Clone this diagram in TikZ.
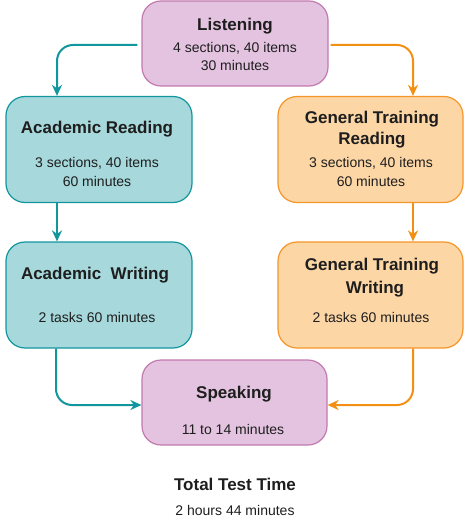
\documentclass[tikz,border=0pt]{standalone}
\usepackage{fontspec}
\setmainfont{Liberation Sans}
\usetikzlibrary{arrows.meta,calc}
\definecolor{tealfill}{HTML}{A6D8DC}
\definecolor{tealline}{HTML}{12969E}
\definecolor{orfill}{HTML}{FDD6A5}
\definecolor{orline}{HTML}{F5962A}
\definecolor{orarrow}{HTML}{F39014}
\definecolor{pkfill}{HTML}{E4C3E0}
\definecolor{pkline}{HTML}{C27AAF}
\definecolor{txt}{HTML}{1E1E1E}
\tikzset{
  box/.style={draw, rounded corners=19pt, line width=1.2pt, minimum width=186pt, inner sep=0pt},
  tealbox/.style={box, fill=tealfill, draw=tealline},
  orbox/.style={box, fill=orfill, draw=orline},
  pkbox/.style={box, fill=pkfill, draw=pkline},
  ttl/.style={anchor=base, text=txt, font=\fontsize{17}{20}\selectfont\bfseries, inner sep=0pt},
  bdy/.style={anchor=base, text=txt, font=\fontsize{14}{17}\selectfont, inner sep=0pt},
  conn/.style={line width=2pt, rounded corners=16pt, -{Stealth[length=11pt,width=10pt,inset=3.5pt]}},
}
\begin{document}
\begin{tikzpicture}[x=1pt,y=-1pt]
\useasboundingbox (0,0) rectangle (470,521);
% boxes
\node[pkbox, minimum width=186pt, minimum height=85pt] (lis) at (235,43.5) {};
\node[tealbox, minimum height=106pt] (ar) at (99,149.5) {};
\node[orbox, minimum width=185pt, minimum height=106pt] (gr) at (370.5,149.5) {};
\node[tealbox, minimum height=106pt] (aw) at (99,295) {};
\node[orbox, minimum width=185pt, minimum height=106pt] (gw) at (370.5,295) {};
\node[pkbox, minimum width=185pt, minimum height=85pt] (sp) at (234.5,402.5) {};
% texts
\node[ttl] (lisT) at (235,31) {Listening};
\node[bdy] (lisA) at (235,53) {4 sections, 40 items};
\node[bdy] (lisB) at (235,71) {30 minutes};
\node[ttl] (arT) at (97,134) {Academic Reading};
\node[bdy] (arA) at (97,168) {3 sections, 40 items};
\node[bdy] (arB) at (97,187) {60 minutes};
\node[ttl] (grT1) at (372,124) {General Training};
\node[ttl] (grT2) at (372,145) {Reading};
\node[bdy] (grA) at (371,168) {3 sections, 40 items};
\node[bdy] (grB) at (371,187) {60 minutes};
\node[ttl] (awT) at (95,279) {Academic\ \ Writing};
\node[bdy] (awA) at (97,322) {2 tasks 60 minutes};
\node[ttl] (gwT1) at (372,270) {General Training};
\node[ttl] (gwT2) at (375,293) {Writing};
\node[bdy] (gwA) at (371,322) {2 tasks 60 minutes};
\node[ttl] (spT) at (234,398) {Speaking};
\node[bdy] (spA) at (233,434) {11 to 14 minutes};
\node[ttl] (tot) at (235,490) {Total Test Time};
\node[bdy] (totA) at (235,515) {2 hours 44 minutes};
% connectors
\draw[conn, tealline] ([xshift=-4pt,yshift=-1.5pt]lis.west) -| ([xshift=-42pt]ar.north);
\draw[conn, orarrow] ([xshift=2pt,yshift=-1.5pt]lis.east) -| ([xshift=42.5pt]gr.north);
\draw[conn, tealline] ([xshift=-42pt]ar.south) -- ([xshift=-42pt]aw.north);
\draw[conn, orarrow] ([xshift=42.5pt]gr.south) -- ([xshift=42.5pt]gw.north);
\draw[conn, tealline] ([xshift=-43pt]aw.south) |- ([yshift=-2.5pt]sp.west);
\draw[conn, orarrow] ([xshift=42.5pt]gw.south) |- ([yshift=-2.5pt]sp.east);
\end{tikzpicture}
\end{document}
